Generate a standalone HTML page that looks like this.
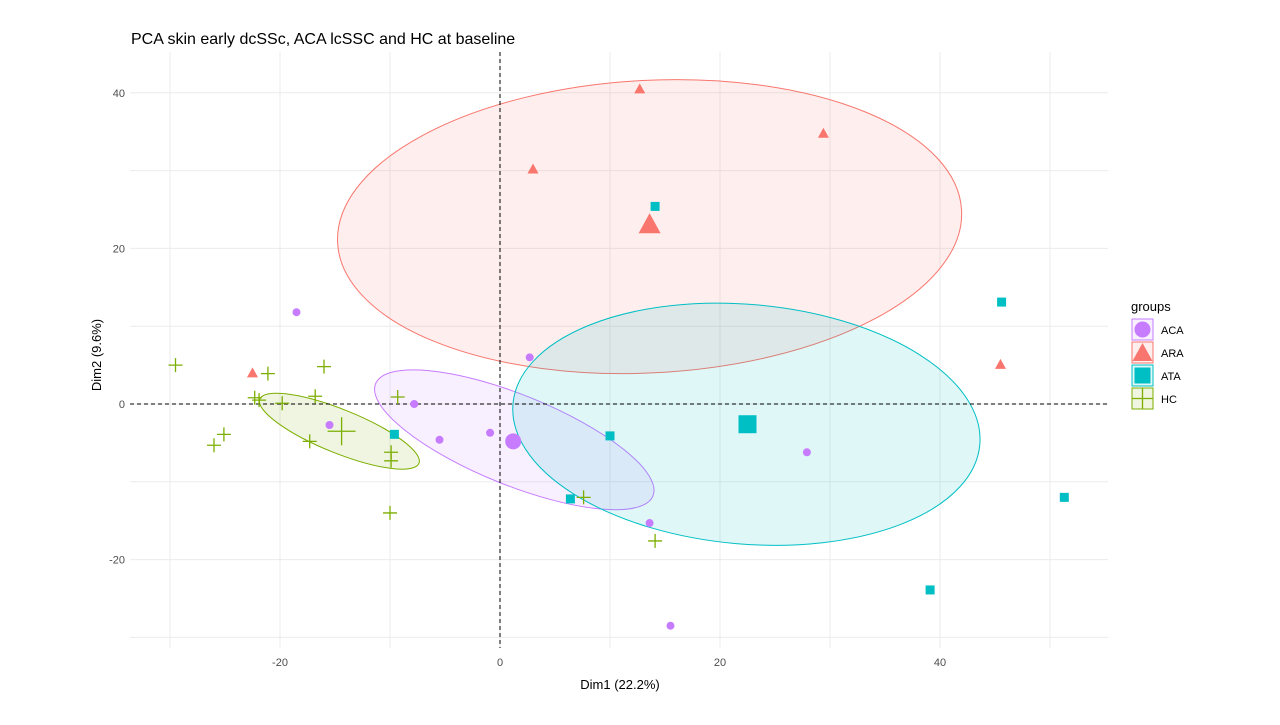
<!DOCTYPE html>
<html><head><meta charset="utf-8"><style>
body{margin:0;background:#fff;font-family:"Liberation Sans",Arial,sans-serif}
svg text{font-family:"Liberation Sans",Arial,sans-serif}
</style></head><body>
<svg id="chart" width="1280" height="720" viewBox="0 0 1280 720">
<text x="131" y="44" font-size="16" fill="#000">PCA skin early dcSSc, ACA lcSSC and HC at baseline</text>
<g id="grid"></g><g id="ell"></g><g id="axes0"></g><g id="pts"></g><g id="ticks"></g>
<text x="620" y="689" font-size="13" text-anchor="middle" fill="#000">Dim1 (22.2%)</text>
<text transform="translate(101,355) rotate(-90)" font-size="13" text-anchor="middle" fill="#000">Dim2 (9.6%)</text>
<g id="legend"></g>
</svg>
<script>
const xTicks=[-20,0,20,40];
const yTicks=[-20,0,20,40];
const gridX=[-30,-20,-10,0,10,20,30,40,50];
const gridY=[-30,-20,-10,0,10,20,30,40];
const groups=["ACA","ARA","ATA","HC"];
const colors={ACA:"#C77CFF",ARA:"#F8766D",ATA:"#00BFC4",HC:"#7CAE00"};
const acaX=[-18.5,-15.5,-7.8,-5.5,-0.9,2.7,13.6,15.5,27.9];
const acaY=[11.8,-2.7,0,-4.6,-3.7,6,-15.3,-28.5,-6.2];
const araX=[-22.5,3,12.7,29.4,45.5];
const araY=[4,30.2,40.5,34.8,5.1];
const ataX=[-9.6,6.4,10,14.1,45.6,51.3,39.1];
const ataY=[-3.9,-12.2,-4.1,25.4,13.1,-12,-23.9];
const hcX=[-29.5,-21.1,-22.3,-21.9,-19.8,-16.8,-16,-9.3,-26,-25.1,-17.3,-9.9,-9.9,-10,7.6,14.1];
const hcY=[5,3.9,0.8,0.5,0.1,1,4.8,0.9,-5.3,-3.9,-4.8,-6.2,-7.3,-14,-12,-17.6];
const centX=[1.2,13.6,22.5,-14.4];
const centY=[-4.8,23.1,-2.6,-3.5];
const ellCX=[1.3,13.6,22.4,-14.6];
const ellCY=[-4.6,22.8,-2.6,-3.5];
const ellRX=[13.6,28.4,21.3,7.8];
const ellRY=[5.8,18.8,15.4,2.8];
const ellRot=[22,-3,5,22];

const X=v=>500+v*11, Y=v=>404-v*7.78;
const NS="http://www.w3.org/2000/svg";
function mk(tag,attrs,parent){const e=document.createElementNS(NS,tag);for(const k in attrs)e.setAttribute(k,attrs[k]);parent.appendChild(e);return e;}
const grid=document.getElementById('grid');
gridX.forEach(v=>{const l=mk('line',{x1:X(v),x2:X(v),y1:52,y2:648,stroke:'#ebebeb','stroke-width':1},grid);

});
gridY.forEach(v=>{const l=mk('line',{x1:130,x2:1108,y1:Y(v),y2:Y(v),stroke:'#ebebeb','stroke-width':1},grid);

});
const a0=document.getElementById('axes0');
const h=mk('line',{x1:130,x2:1108,y1:Y(0),y2:Y(0),stroke:'#000','stroke-dasharray':'4,3'},a0);


const v0=mk('line',{x1:X(0),x2:X(0),y1:52,y2:648,stroke:'#000','stroke-dasharray':'4,3'},a0);


const tk=document.getElementById('ticks');
xTicks.forEach(v=>{const t=mk('text',{x:X(v),y:666,'font-size':11,'text-anchor':'middle',fill:'#4d4d4d'},tk);t.textContent=v;

});
yTicks.forEach(v=>{const t=mk('text',{x:125,y:Y(v)+4,'font-size':11,'text-anchor':'end',fill:'#4d4d4d'},tk);t.textContent=v;

});
const el=document.getElementById('ell');
groups.forEach((g,i)=>{const cx=X(ellCX[i]),cy=Y(ellCY[i]);
const e=mk('ellipse',{cx:cx,cy:cy,rx:ellRX[i]*11,ry:ellRY[i]*7.78,fill:colors[g],'fill-opacity':0.12,stroke:colors[g],'stroke-width':1,transform:`rotate(${ellRot[i]} ${cx} ${cy})`},el);

});
const P=document.getElementById('pts');
function shape(g,x,y,s,parent){const c=colors[g];let e;
 if(g==="ACA")e=mk('circle',{cx:x,cy:y,r:4*s,fill:c},parent);
 else if(g==="ARA")e=mk('polygon',{points:`${x},${y-5.5*s} ${x-5.5*s},${y+4.5*s} ${x+5.5*s},${y+4.5*s}`,fill:c},parent);
 else if(g==="ATA")e=mk('rect',{x:x-4.5*s,y:y-4.5*s,width:9*s,height:9*s,fill:c},parent);
 else e=mk('path',{d:`M${x-7*s},${y}H${x+7*s}M${x},${y-7*s}V${y+7*s}`,stroke:c,'stroke-width':1.3,fill:'none'},parent);
 return e;}
const data={ACA:[acaX,acaY],ARA:[araX,araY],ATA:[ataX,ataY],HC:[hcX,hcY]};
groups.forEach((g,i)=>{const [xs,ys]=data[g];
 xs.forEach((xv,j)=>{const e=shape(g,X(xv),Y(ys[j]),1,P);
 
 });
 const c=shape(g,X(centX[i]),Y(centY[i]),2,P);
 
 });
const L=document.getElementById('legend');
const lt=mk('text',{x:1131,y:311,'font-size':13,fill:'#000'},L);lt.textContent='groups';


groups.forEach((g,i)=>{const y=319+i*23;
 const gg=mk('g',{},L);
 
 
 mk('rect',{x:1132,y:y,width:21,height:21,fill:colors[g],'fill-opacity':0.12,stroke:colors[g],'stroke-width':1},gg);
 const cx=1142.5,cy=y+10.5;
 if(g==="ACA")mk('circle',{cx:cx,cy:cy,r:8,fill:colors[g]},gg);
 else if(g==="ARA")mk('polygon',{points:`${cx},${y+1} ${cx-10},${y+19} ${cx+10},${y+19}`,fill:colors[g]},gg);
 else if(g==="ATA")mk('rect',{x:cx-8,y:cy-8,width:16,height:16,fill:colors[g]},gg);
 else mk('path',{d:`M${cx-10.5},${cy}H${cx+10.5}M${cx},${cy-10.5}V${cy+10.5}`,stroke:colors[g],'stroke-width':1.3},gg);
 const t=mk('text',{x:1161,y:y+15,'font-size':11,fill:'#000'},gg);t.textContent=g;});
</script>
</body></html>
